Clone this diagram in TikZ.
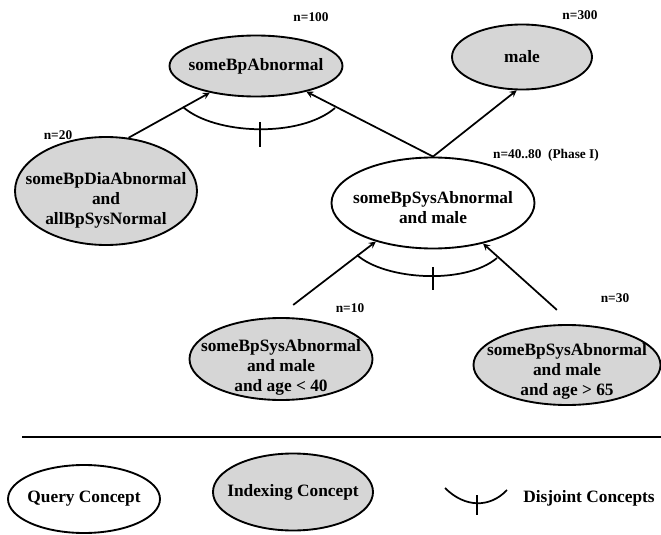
\documentclass[tikz,border=0pt]{standalone}
\usepackage{fontspec}
\setmainfont{Liberation Serif}
\usetikzlibrary{shapes.geometric}

\definecolor{stipple}{gray}{0.84}
\newcommand{\dropby}[1]{\rule{0pt}{#1}}
\tikzset{
  concept/.style={ellipse, draw, line width=1.4pt, inner xsep=-60pt, inner ysep=-30pt, align=center, font=\fontsize{13}{15}\selectfont\bfseries},
  query/.style={concept, fill=white},
  indexing/.style={concept, fill=stipple},
  count/.style={inner sep=0pt, font=\fontsize{10}{12}\selectfont\bfseries},
  legendtext/.style={inner sep=0pt, font=\fontsize{13}{15}\selectfont\bfseries},
  link/.style={line width=1.3pt, ->, >=stealth},
  disjoint/.style={line width=1.3pt}
}

\begin{document}
\begin{tikzpicture}[x=0.75pt, y=-0.75pt]
	\useasboundingbox (0,0) rectangle (661,535);

	\node [indexing, minimum width=129.75pt, minimum height=45.75pt] (bpab) at (256,66) {someBpAbnormal};
	\node [indexing, minimum width=105pt, minimum height=48.75pt] (male) at (522,57) {male};
	\node [query, minimum width=152.25pt, minimum height=68.25pt] (sysmale) at (433,203) {\dropby{16.5pt}someBpSysAbnormal\\and male};
	\node [indexing, minimum width=136.5pt, minimum height=81pt] (dia) at (106,191) {\dropby{22.5pt}someBpDiaAbnormal\\and\\allBpSysNormal};
	\node [indexing, minimum width=137.25pt, minimum height=61.5pt] (lowL) at (281,359) {\dropby{22pt}someBpSysAbnormal\\and male\\and age < 40};
	\node [indexing, minimum width=140.25pt, minimum height=60pt] (lowR) at (567,365) {\dropby{19pt}someBpSysAbnormal\\and male\\and age > 65};

	\node [count] (n100) at (311,17) {n=100};
	\node [count] (n300) at (580,15) {n=300};
	\node [count] (n20) at (58,135) {n=20};
	\node [count] (n4080) at (546,155) {n=40..80\ \ (Phase I)};
	\node [count] (n10) at (350,308) {n=10};
	\node [count] (n30) at (615,298) {n=30};

	\draw [link] (dia.67) -- (bpab.210);
	\draw [link] (sysmale.north) -- (bpab.333);
	\draw [link] (sysmale.north) -- (male.261);
	\draw [link, shorten <=15pt] (lowL.95) -- (sysmale.214);
	\draw [link, shorten <=16pt] (lowR.82) -- (sysmale.321);

	\coordinate (ua) at (183,107);
	\coordinate (ub) at (335,108);
	\coordinate (la) at (357,255);
	\coordinate (lb) at (497,258);
	\draw [disjoint] (ua) .. controls (215,135) and (300,138) .. (ub);
	\draw [disjoint] (260,122) -- (260,147);
	\draw [disjoint] (la) .. controls (385,280) and (465,285) .. (lb);
	\draw [disjoint] (433,267) -- (433,290);

	\draw [line width=1.4pt] (22,437) -- (661,437);

	\node [query, minimum width=114pt, minimum height=51pt] (qc) at (84,499) {Query Concept};
	\node [indexing, minimum width=120pt, minimum height=57.75pt] (ic) at (293,492) {Indexing Concept};
	\draw [disjoint] (445,488) .. controls (465,508) and (490,508) .. (507,490);
	\draw [disjoint] (477,495) -- (477,515);
	\node [legendtext, anchor=west] (dc) at (523,498) {Disjoint Concepts};
\end{tikzpicture}
\end{document}
